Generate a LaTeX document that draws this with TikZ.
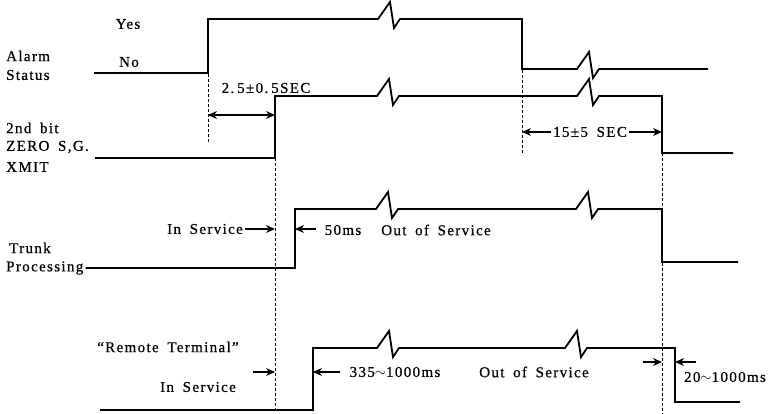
\documentclass[tikz,border=0pt]{standalone}
\usepackage{fontspec}
\setmainfont{Liberation Serif}[LetterSpace=9,WordSpace=1.7,FakeBold=0.6]
\usetikzlibrary{arrows.meta}

\begin{document}
\begin{tikzpicture}[
  x=1pt,y=-1pt,
  font=\fontsize{15}{17}\selectfont,
  sig/.style={line width=1.8pt,line join=miter},
  guide/.style={line width=0.8pt,dash pattern=on 3pt off 2pt},
  dim/.style={line width=1.3pt,-{Stealth[length=9pt,width=8pt]}},
  dimb/.style={line width=1.3pt,{Stealth[length=9pt,width=8pt]}-{Stealth[length=9pt,width=8pt]}},
  zz/.style={insert path={-- ++(12,-17) -- ++(4,26) -- ++(6,-9)}},
  lbl/.style={inner sep=0pt,anchor=west},
  txt/.style={inner sep=0pt}
]
\useasboundingbox (0,0) rectangle (772,414);

% signal names
\node[lbl] (alarm) at (6,56) {Alarm};
\node[lbl] (status) at (6,75) {Status};
\node[txt] (yes) at (128,24) {Yes};
\node[txt] (no) at (129,62) {No};
\node[lbl] (bit) at (6,128) {2nd bit};
\node[lbl] (zero) at (6,147) {ZERO S,G.};
\node[lbl] (xmit) at (6,167) {XMIT};
\node[lbl] (trunk) at (9,248) {Trunk};
\node[lbl] (proc) at (6,268) {Processing};

% waveforms
\draw[sig] (94,73) -- (208,73) -- (208,19) -- (378,19) [zz] -- (522,19)
  -- (522,69) -- (577,69) [zz] -- (708,69);
\draw[sig] (95,158) -- (275,158) -- (275,96) -- (377,96) [zz] -- (577,96) [zz]
  -- (662,96) -- (662,153) -- (733,153);
\draw[sig] (proc.east) ++(2,0) -- (295,268) -- (295,209) -- (376,209) [zz] -- (576,209) [zz]
  -- (662,209) -- (662,262) -- (738,262);
\draw[sig] (100,410) -- (313,410) -- (313,348) -- (377,348) [zz] -- (565,348) [zz]
  -- (675,348) -- (675,402) -- (740,402);

% guide lines
\coordinate (g1a) at (208,74);  \coordinate (g1b) at (208,142);
\coordinate (g2a) at (275,158); \coordinate (g2b) at (275,410);
\coordinate (g3a) at (522,70);  \coordinate (g3b) at (522,155);
\coordinate (g4a) at (662,153); \coordinate (g4b) at (662,414);
\draw[guide] (g1a) -- (g1b);
\draw[guide] (g2a) -- (g2b);
\draw[guide] (g3a) -- (g3b);
\draw[guide] (g4a) -- (g4b);

% alarm -> 2nd bit
\node[txt] (delay) at (266,88) {2.\kern3pt5±0.\kern3pt5SEC};
\coordinate (d1) at (208,115); \coordinate (d2) at (275,115);
\draw[dimb] (d1) -- (d2);

\node[txt] (hold) at (590,132) {15±5 SEC};
\coordinate (h1) at (522,132); \coordinate (h2) at (662,132);
\draw[dim,shorten <=2pt] (h1 -| hold.west) -- (h1);
\draw[dim,shorten <=2pt] (h2 -| hold.east) -- (h2);

% trunk processing
\node[txt] (insv) at (205,229) {In Service};
\coordinate (t1) at (275,229);
\draw[dim,shorten <=2pt] (t1 -| insv.east) -- (t1);
\node[txt] (ms50) at (343,230) {50ms};
\node[txt] (oos) at (436,230) {Out of Service};
\coordinate (m50) at (316,229); \coordinate (t50) at (295,229);
\draw[dim] (m50) -- (t50);

% remote terminal
\node[txt] (rt) at (168,347) {``Remote Terminal''};
\node[txt] (rtin) at (198,387) {In Service};
\coordinate (r0) at (253,372); \coordinate (r1) at (275,372);
\draw[dim] (r0) -- (r1);
\node[txt] (ms335) at (395,372) {335$\sim$1000ms};
\node[txt] (rtoos) at (534,372) {Out of Service};
\coordinate (r2) at (340,372); \coordinate (r3) at (313,372);
\draw[dim] (r2) -- (r3);
\node[txt] (ms20) at (725,377) {20$\sim$1000ms};
\coordinate (e0) at (643,362); \coordinate (e1) at (662,362);
\coordinate (e2) at (696,362); \coordinate (e3) at (675,362);
\draw[dim] (e0) -- (e1);
\draw[dim] (e2) -- (e3);
\end{tikzpicture}
\end{document}
